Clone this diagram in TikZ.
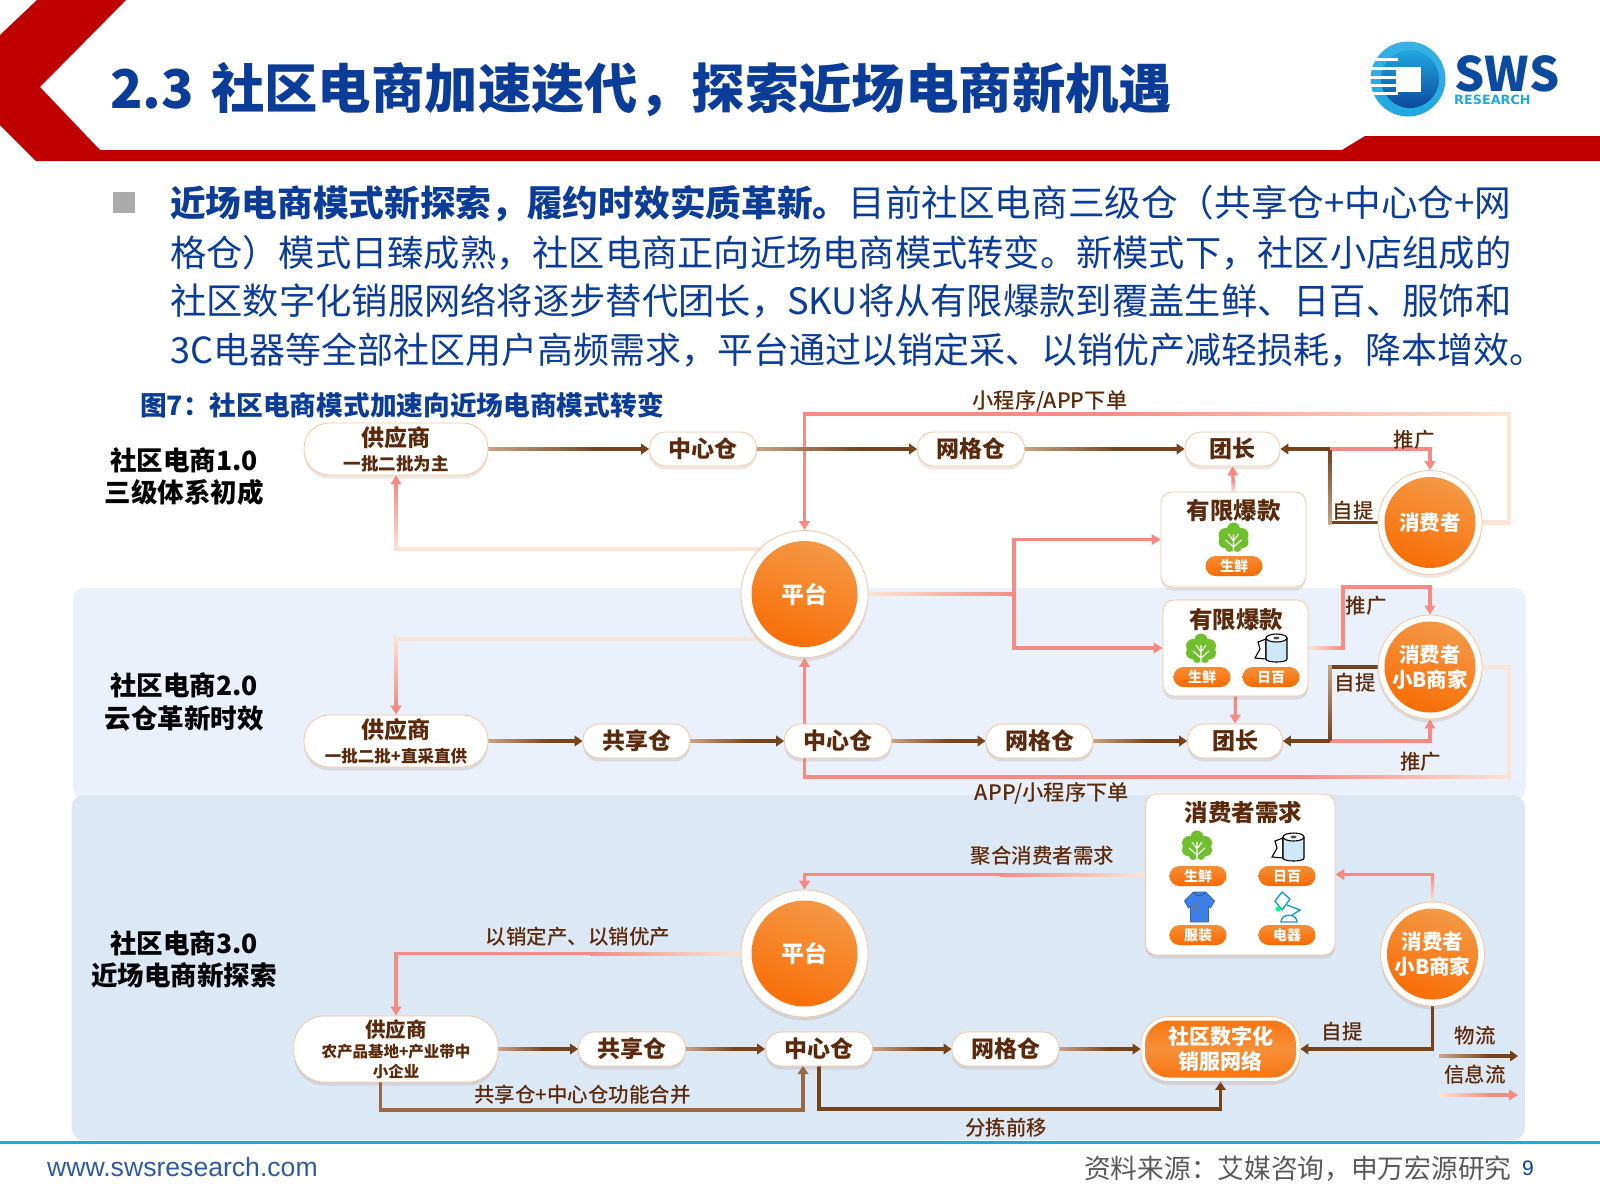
\documentclass[tikz,border=0pt]{standalone}
\usepackage{fontspec}
\usetikzlibrary{arrows.meta,shadows}
\setmainfont{Noto Sans CJK SC}
\newfontfamily\heavyfont{Noto Sans CJK SC Black}
\newfontfamily\labelface{Noto Sans CJK SC Medium}
\newfontfamily\siteface{Liberation Sans}
\newfontfamily\logoface{DejaVu Sans}
\definecolor{titleblue}{HTML}{0A3C98}
\definecolor{bandred}{HTML}{C00000}
\definecolor{panelone}{HTML}{EAF1FA}
\definecolor{paneltwo}{HTML}{DDE8F5}
\definecolor{barkbrown}{HTML}{5B2A0C}
\definecolor{goodsbrown}{HTML}{74421C}
\definecolor{goodspale}{HTML}{C9A488}
\definecolor{infopink}{HTML}{F48B85}
\definecolor{infopale}{HTML}{FBE5D6}
\definecolor{rimpeach}{HTML}{F2C6A2}
\definecolor{hublight}{HTML}{F39C4C}
\definecolor{hubdeep}{HTML}{FA6A00}
\definecolor{leafgreen}{HTML}{6FBF2F}
\definecolor{rollblue}{HTML}{CFE8F5}
\definecolor{shirtblue}{HTML}{3F80E6}
\definecolor{lampteal}{HTML}{1C9CC4}
\definecolor{logosky}{HTML}{22A7E0}
\definecolor{logonavy}{HTML}{0B4A9E}
\newcommand{\fsz}[1]{\fontsize{#1pt}{#1pt}\selectfont}
\newcommand{\fadex}[5]{\shade[left color=#4,right color=#5] (#1,#3-1.7) rectangle (#2,#3+1.7);}
\newcommand{\fadey}[5]{\shade[top color=#4,bottom color=#5] (#1-1.7,#2) rectangle (#1+1.7,#3);}
\pgfdeclarelayer{flows}
\pgfsetlayers{flows,main}
\tikzset{
    leaf/.pic={
        \fill[leafgreen] (0,-9) circle (6.5) (-8,-3) circle (7) (8,-3) circle (7)
            (-9,4) circle (6) (9,4) circle (6) (0,3) circle (10) (-4,10) circle (4) (4,10) circle (4);
        \draw[white,line width=1.1pt] (0,13) -- (0,-4) (0,9) -- (-8,2) (0,9) -- (8,2) (0,3) -- (-5,-4) (0,3) -- (5,-4);
    },
    paperroll/.pic={
        \draw[black,fill=white,line width=1.1pt] (-5,-9) -- (-13,-6) -- (-11,1) -- (-16,10) -- (-5,11) -- cycle;
        \draw[black,fill=rollblue,line width=1.1pt] (-5,-10) -- (-5,11) .. controls (-5,15) and (16,15) .. (16,11) -- (16,-10);
        \draw[black,fill=white,line width=1.1pt] (5.5,-10) ellipse (10.5 and 4);
        \fill[black!70] (5.5,-10) ellipse (3 and 1.4);
    },
    tshirt/.pic={
        \draw[shirtblue!80!black,fill=shirtblue,line width=.8pt,line join=round] (-6,-15) -- (6,-15) -- (15,-6) -- (11,1) -- (9,-1) -- (9,15) -- (-9,15) -- (-9,-1) -- (-11,1) -- (-15,-6) -- cycle;
        \draw[shirtblue!70!black,line width=1pt] (-6,-15) .. controls (-3,-10) and (3,-10) .. (6,-15);
        \draw[orange!80!black,line width=1pt] (-3,-3) -- (-5,2);
    },
    desklamp/.pic={
        \draw[lampteal,fill=white,line width=1.4pt,line join=round] (-12,-6) -- (-5,-15) -- (3,-8) -- (-5,3) -- cycle;
        \fill[green!50!cyan] (-9,2) circle (2.5);
        \draw[lampteal,line width=1.4pt] (0,-2) -- (13,3) -- (2,10);
        \draw[lampteal,fill=white,line width=1.4pt] (-6,15) .. controls (-6,6) and (10,6) .. (10,15) -- cycle;
    },
}
\begin{document}
\begin{tikzpicture}[
        x=1pt,y=-1pt,
        softshadow/.style={drop shadow={shadow xshift=0pt,shadow yshift=-3.5pt,opacity=.12,fill=goodsbrown}},
        panelnode/.style={rounded corners=12pt,inner sep=0pt},
        pillnode/.style={draw=rimpeach,fill=white,line width=.8pt,rounded corners=16pt,minimum width=107pt,minimum height=34pt,inner sep=0pt,align=center,text=barkbrown,font=\heavyfont\fsz{23},softshadow},
        supplynode/.style={pillnode,rounded corners=25pt,minimum width=184pt,minimum height=52pt},
        cardnode/.style={draw=rimpeach,fill=white,line width=.8pt,rounded corners=11pt,inner sep=0pt,softshadow},
        hubnode/.style={circle,draw=rimpeach,fill=white,line width=.8pt,inner sep=0pt,align=center,text=white,font=\heavyfont\fsz{23},softshadow,
            path picture={\shade[top color=hublight,bottom color=hubdeep,shading angle=-20] (path picture bounding box.center) circle (#1);}},
        tagnode/.style={rounded corners=10pt,top color=hublight!70!hubdeep,bottom color=hubdeep,minimum width=57pt,minimum height=20pt,inner sep=0pt,text=white,font=\heavyfont\fsz{14}},
        cardtitle/.style={inner sep=0pt,text=barkbrown,font=\heavyfont\fsz{23.5}},
        stagelabel/.style={inner sep=0pt,align=center,text=black,font=\heavyfont\fsz{26.5}},
        flowlabel/.style={inner sep=0pt,text=barkbrown,font=\labelface\fsz{20.5}},
        bodyline/.style={anchor=west,inner sep=0pt,text=titleblue,font=\fsz{36}},
        infoflow/.style={draw=infopink,line width=3.4pt,-{Triangle[length=9pt,width=10.5pt]}},
        goodsflow/.style={draw=goodsbrown,line width=3.4pt,-{Triangle[length=8pt,width=10.5pt]}},
    ]
    \useasboundingbox (0,0) rectangle (1600,1200);
    % header and text
    \fill[bandred] (0,35) -- (37,0) -- (126,0) -- (40,87) -- (100,150) -- (1342,150) -- (1365,136) -- (1600,136) -- (1600,161) -- (36,161) -- (0,125) -- cycle;
    \node[anchor=west,inner sep=0pt,text=titleblue,font=\bfseries\fsz{53.4}] (headline) at (110,90) {2.3\hspace{5pt} 社区电商加速迭代，探索近场电商新机遇};
    \fill[black!33] (113,192) rectangle (135,213);
    \node[bodyline] (bodya) at (170,204) {{\bfseries\fsz{35.7}近场电商模式新探索，履约时效实质革新。}{\fsz{36.6}目前社区电商三级仓（共享仓+中心仓+网}};
    \node[bodyline,font=\fsz{36.25}] (bodyb) at (170,253) {格仓）模式日臻成熟，社区电商正向近场电商模式转变。新模式下，社区小店组成的};
    \node[bodyline,font=\fsz{36.3}] (bodyc) at (170,301) {社区数字化销服网络将逐步替代团长，SKU将从有限爆款到覆盖生鲜、日百、服饰和};
    \node[bodyline] (bodyd) at (170,350) {3C电器等全部社区用户高频需求，平台通过以销定采、以销优产减轻损耗，降本增效。};
    \node[anchor=west,inner sep=0pt,text=titleblue,font=\bfseries\fsz{26.7}] (figcaption) at (140,405) {图7：社区电商模式加速向近场电商模式转变};
    % logo
    \shade[top color=logosky!90!white,bottom color=logosky] (1408,79) circle (37.5);
    \shade[top color=logosky,bottom color=logonavy] (1410,79) circle (29);
    \foreach \yy in {59,68,77,85,93} {\fill[white] (1370,\yy-1.5) rectangle (1398,\yy+1.5);}
    \fill[white] (1396,66.7) rectangle (1420.7,92.3);
    \node[inner sep=0pt,text height=34pt,text depth=0pt,text=logonavy,font=\heavyfont\fsz{47.5}] (swsword) at (1507,74) {SWS};
    \node[anchor=west,inner sep=0pt,text height=9pt,text depth=0pt,text=logosky,font=\logoface\bfseries\fsz{12.8}] (swssub) at (1454,99.5) {RESEARCH};
    % stage labels
    \node[stagelabel] (stagea) at (184,476.5) {社区电商1.0\\[6pt]三级体系初成};
    \node[stagelabel] (stageb) at (184,702) {社区电商2.0\\[6pt]云仓革新时效};
    \node[stagelabel] (stagec) at (184,959.5) {社区电商3.0\\[6pt]近场电商新探索};
    % first row
    \node[supplynode] (supply1) at (396,449) {供应商\\[1pt]{\fsz{17.5}一批二批为主}};
    \node[pillnode] (dcenter1) at (703,449) {中心仓};
    \node[pillnode] (gridwh1) at (971,449) {网格仓};
    \node[pillnode,minimum width=95pt] (leader1) at (1232.5,449) {团长};
    \node[hubnode=53pt,minimum size=127pt] (platform1) at (804.5,594) {平台};
    \node[hubnode=45.5pt,minimum size=104pt,font=\heavyfont\fsz{20.5}] (consumer1) at (1430,522.5) {消费者};
    \node[cardnode,minimum width=145pt,minimum height=95pt] (hotcard1) at (1233.5,539.5) {};
    \node[cardtitle] (hottitle1) at (1233.5,511) {有限爆款};
    \pic at (1233.5,538) {leaf};
    \node[tagnode] (hotfresh1) at (1234,566) {生鲜};
    % second row
    \node[supplynode] (supply2) at (396,741) {供应商\\[1pt]{\fsz{16.5}一批二批+直采直供}};
    \node[pillnode] (share2) at (636.5,741) {共享仓};
    \node[pillnode] (dcenter2) at (838,741) {中心仓};
    \node[pillnode] (gridwh2) at (1039.5,741) {网格仓};
    \node[pillnode,minimum width=95pt] (leader2) at (1235,741) {团长};
    \node[hubnode=45.5pt,minimum size=104pt,font=\heavyfont\fsz{20.5}] (consumer2) at (1430,667) {消费者\\[4pt]小B商家};
    \node[cardnode,minimum width=145pt,minimum height=96pt] (hotcard2) at (1235.5,648) {};
    \node[cardtitle] (hottitle2) at (1236,620) {有限爆款};
    \pic at (1201,649) {leaf};
    \pic at (1271,648) {paperroll};
    \node[tagnode] (hotfresh2) at (1202,677) {生鲜};
    \node[tagnode] (hotdaily2) at (1271,677) {日百};
    % third row
    \node[supplynode,rounded corners=30pt,minimum width=204pt,minimum height=66pt] (supply3) at (396,1049) {{\fsz{20.5}供应商}\\[-3pt]{\fsz{15.5}农产品基地+产业带中}\\[-3pt]{\fsz{15.5}小企业}};
    \node[pillnode] (share3) at (632,1049) {共享仓};
    \node[pillnode] (dcenter3) at (819,1049) {中心仓};
    \node[pillnode] (gridwh3) at (1005.5,1049) {网格仓};
    \node[hubnode=53pt,minimum size=127pt] (platform2) at (804.5,953.5) {平台};
    \node[hubnode=45.5pt,minimum size=104pt,font=\heavyfont\fsz{20.5}] (consumer3) at (1432.5,954) {消费者\\[4pt]小B商家};
    \node[draw=rimpeach,fill=white,line width=.8pt,rounded corners=28pt,minimum width=159pt,minimum height=65pt,inner sep=0pt,align=center,text=white,font=\heavyfont\fsz{21},softshadow,
        path picture={\shade[top color=hubdeep!85!hublight,bottom color=hubdeep!85!hublight,middle color=hublight!75!hubdeep,rounded corners=24pt] ([shift={(4pt,4pt)}]path picture bounding box.south west) rectangle ([shift={(-4pt,-4pt)}]path picture bounding box.north east);}] (network) at (1220.5,1049) {社区数字化\\[4pt]销服网络};
    \node[cardnode,minimum width=189.5pt,minimum height=161pt] (demand) at (1240.2,874.5) {};
    \node[cardtitle] (demandtitle) at (1243.5,812) {消费者需求};
    \pic at (1197,846) {leaf};
    \pic at (1288,847) {paperroll};
    \node[tagnode] (demandfresh) at (1198,876) {生鲜};
    \node[tagnode] (demanddaily) at (1287,876) {日百};
    \pic at (1199.5,907) {tshirt};
    \pic at (1287,907) {desklamp};
    \node[tagnode] (demandcloth) at (1198,935) {服装};
    \node[tagnode] (demandelec) at (1287,935) {电器};
    % connector labels
    \node[flowlabel,font=\labelface\fsz{21.3}] (lblorder1) at (1050,401) {小程序/APP下单};
    \node[flowlabel] (lblpush1) at (1414,440) {推广};
    \node[flowlabel] (lblpick1) at (1353,511) {自提};
    \node[flowlabel] (lblpush2) at (1366,606) {推广};
    \node[flowlabel] (lblpick2) at (1355,683) {自提};
    \node[flowlabel] (lblpush3) at (1420.6,762) {推广};
    \node[flowlabel,font=\labelface\fsz{21.3}] (lblorder2) at (1052,793) {APP/小程序下单};
    \node[flowlabel] (lblgather) at (1042.6,856) {聚合消费者需求};
    \node[flowlabel] (lblmake) at (578,937) {以销定产、以销优产};
    \node[flowlabel] (lblmerge) at (582.5,1095) {共享仓+中心仓功能合并};
    \node[flowlabel] (lblsort) at (1006,1128) {分拣前移};
    \node[flowlabel] (lblpick3) at (1342,1032) {自提};
    \node[flowlabel] (lblgoods) at (1475,1036) {物流};
    \node[flowlabel] (lblinfo) at (1475,1075) {信息流};
    % turning points
    \coordinate (turn1) at (1330,449);
    \coordinate (turn2) at (1330,741);
    \coordinate (loopNE) at (1509,414);
    \coordinate (loopSE) at (1509,777);
    \coordinate (split) at (1014,594);
    \coordinate (tick2) at (1343,587);
    \coordinate (mergeS) at (380.5,1082);
    \coordinate (mergeB) at (803,1110);
    \coordinate (mergeT) at (803,1066);
    \coordinate (sortB) at (1220.5,1109);
    \coordinate (keyA1) at (1439,1056);
    \coordinate (keyA2) at (1518,1056);
    \coordinate (keyB1) at (1439,1095);
    \coordinate (keyB2) at (1518,1095);
    \begin{pgfonlayer}{flows}
    \node[panelnode,fill=panelone,minimum width=1453pt,minimum height=212pt] (panelmid) at (799.5,694) {};
    \node[panelnode,fill=paneltwo,minimum width=1453.5pt,minimum height=345pt] (panellow) at (798.25,967.5) {};
    \draw[goodsflow] (supply1) -- (dcenter1);
    \draw[goodsflow] (dcenter1) -- (gridwh1);
    \draw[goodsflow] (gridwh1) -- (leader1);
    \draw[goodsflow] (consumer1.west) -| (turn1) -- (leader1.east);
    \draw[infoflow] (turn1) -| (consumer1.north);
    \draw[infoflow] (consumer1.east) -| (loopNE) -| (platform1.north);
    \draw[infoflow] (hotcard1.north) -- (leader1.south);
    \draw[infoflow] (platform1.east) -- (split) |- (hotcard1.west);
    \draw[infoflow] (split) |- (hotcard2.west);
    \draw[infoflow] (platform1.135) -| (supply1.south);
    \draw[infoflow] (platform1.225) -| (supply2.north);
    \draw[goodsflow] (supply2) -- (share2);
    \draw[goodsflow] (share2) -- (dcenter2);
    \draw[goodsflow] (dcenter2) -- (gridwh2);
    \draw[goodsflow] (gridwh2) -- (leader2);
    \draw[goodsflow] (consumer2.west) -| (turn2) -- (leader2.east);
    \draw[infoflow] (turn2) -| (consumer2.south);
    \draw[infoflow] (hotcard2.east) -| (tick2) -| (consumer2.north);
    \draw[infoflow] (hotcard2.south) -- (leader2.north);
    \draw[infoflow] (consumer2.east) -| (loopSE) -| (platform1.south);
    \draw[goodsflow] (supply3) -- (share3);
    \draw[goodsflow] (share3) -- (dcenter3);
    \draw[goodsflow] (dcenter3) -- (gridwh3);
    \draw[goodsflow] (gridwh3) -- (network);
    \draw[goodsflow] (consumer3.south) |- (network.east);
    \draw[infoflow] (platform2.west) -| (supply3.north);
    \draw[infoflow] (demand.west) -| (platform2.north);
    \draw[infoflow] (consumer3.north) |- (demand.east);
    \draw[goodsflow,draw=goodsbrown!60!goodspale] (mergeS) |- (mergeB) -- (mergeT);
    \draw[goodsflow] (dcenter3.south) |- (sortB) -- (network.south);
    \draw[goodsflow] (keyA1) -- (keyA2);
    \draw[infoflow] (keyB1) -- (keyB2);
    % pale starts of the lines
    \fadey{1509}{412.5}{524}{infopale}{infopale}
    \fadex{1482}{1510.5}{522.5}{infopale}{infopale}
    \fadex{1100}{1510.5}{414}{infopink}{infopale}
    \fadex{396}{762}{549}{infopale}{infopale}
    \fadey{396}{484}{550.5}{infopink}{infopale}
    \fadex{396}{762}{639}{infopale}{infopale}
    \fadey{396}{637.5}{705}{infopale}{infopink}
    \fadex{868}{1014}{594}{infopale}{infopink}
    \fadex{1308}{1343}{648}{infopale}{infopink}
    \fadey{1233.5}{480}{492}{infopink}{infopale}
    \fadex{1482}{1510.5}{667}{infopale}{infopale}
    \fadey{1509}{665.5}{778.5}{infopale}{infopale}
    \fadex{1300}{1510.5}{777}{infopink}{infopale}
    \fadex{590}{741}{954}{infopink}{infopale}
    \fadex{1000}{1145.5}{875}{infopink}{infopale}
    \fadey{1432.5}{875}{902}{infopink}{infopale}
    \fadex{1439}{1490}{1095}{infopale}{infopink}
    \fadey{1330}{450}{524}{goodsbrown}{goodspale}
    \fadey{1330}{665.5}{740}{goodspale}{goodsbrown}
    \foreach \xa/\xb/\yy in {488/600/449,756/860/449,1024/1120/449,488/550/741,690/750/741,890/950/741,1092/1150/741,498/545/1049,685/735/1049,872/925/1049,1058/1110/1049,1439/1490/1056} {
        \fadex{\xa}{\xb}{\yy}{goodspale}{goodsbrown}
    }
    \end{pgfonlayer}
    % footer
    \fill[logosky] (0,1140.5) rectangle (1600,1143.5);
    \node[anchor=west,inner sep=0pt,text=titleblue!85!white,font=\siteface\fsz{26.6}] (website) at (47,1167) {www.swsresearch.com};
    \node[anchor=west,inner sep=0pt,text=black!65,font=\fsz{26.7}] (source) at (1084,1169) {资料来源：艾媒咨询，申万宏源研究};
    \node[inner sep=0pt,text=titleblue,font=\siteface\fsz{21}] (pageno) at (1528,1168) {9};
\end{tikzpicture}
\end{document}
